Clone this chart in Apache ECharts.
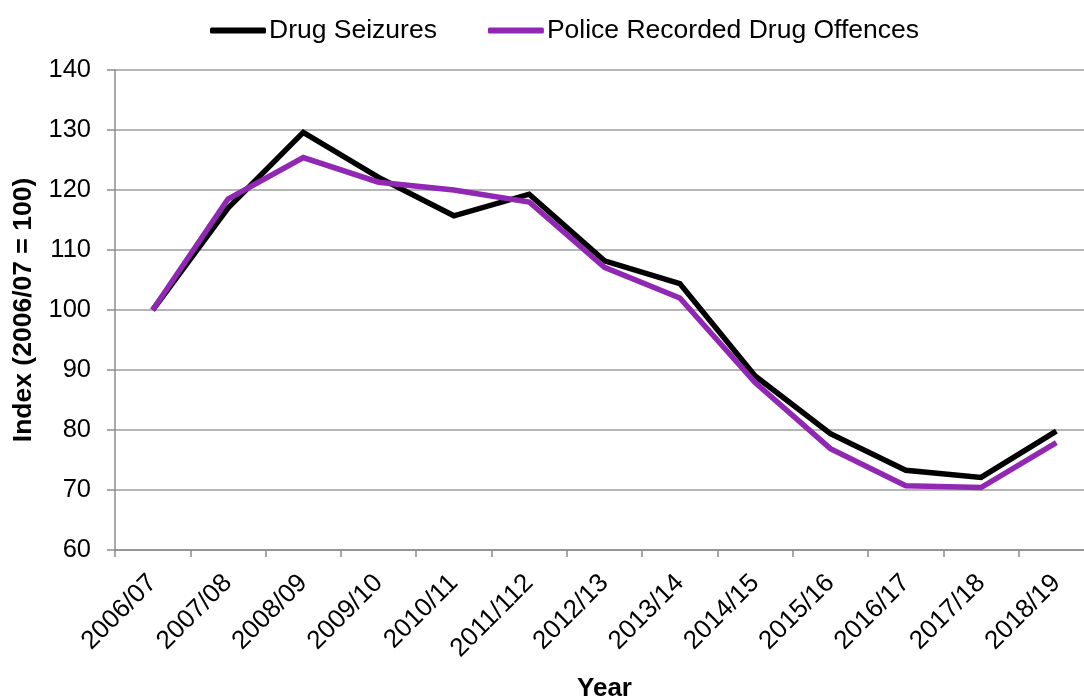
<!DOCTYPE html>
<html>
<head>
<meta charset="utf-8">
<script src="https://cdn.jsdelivr.net/npm/echarts@6/dist/echarts.min.js"></script>
<style>
html,body{margin:0;padding:0;background:#fff;}
#chart{width:1084px;height:700px;}
</style>
</head>
<body>
<div id="chart"></div>
<script>
const categories = ['2006/07','2007/08','2008/09','2009/10','2010/11','2011/112','2012/13','2013/14','2014/15','2015/16','2016/17','2017/18','2018/19'];
const drugSeizures = [100, 117.0, 129.6, 122.1, 115.7, 119.3, 108.2, 104.4, 89.0, 79.4, 73.3, 72.1, 79.8];
const policeRecorded = [100, 118.5, 125.4, 121.3, 120.0, 118.0, 107.1, 102.0, 87.9, 76.9, 70.7, 70.4, 77.9];
const seriesNames = ['Drug Seizures', 'Police Recorded Drug Offences'];
const yTicks = {min: 60, max: 140, interval: 10};
const xTitle = 'Year';
const yTitle = 'Index (2006/07 = 100)';

const FONT = '"Liberation Sans", Arial, sans-serif';
const chart = echarts.init(document.getElementById('chart'), null, {renderer: 'canvas'});
chart.setOption({
  animation: false,
  backgroundColor: '#ffffff',
  textStyle: {fontFamily: FONT},
  legend: {
    top: 12,
    left: 205,
    itemGap: 51,
    itemWidth: 56,
    itemHeight: 6,
    icon: 'roundRect',
    textStyle: {fontSize: 26.5, color: '#000', fontFamily: FONT, padding: [0, 0, 0, -2]},
    data: seriesNames
  },
  grid: {left: 115, top: 70, width: 979, height: 480, outerBoundsMode: 'none', containLabel: false},
  xAxis: {
    type: 'category',
    data: categories,
    boundaryGap: true,
    name: xTitle,
    nameLocation: 'middle',
    nameGap: 126,
    nameTextStyle: {fontSize: 26, fontWeight: 'bold', color: '#000', fontFamily: FONT},
    axisLine: {lineStyle: {color: '#8c8c8c', width: 1.5}},
    axisTick: {show: true, length: 7, lineStyle: {color: '#8c8c8c', width: 1.5}},
    axisLabel: {
      rotate: 45,
      interval: 0,
      fontSize: 26,
      color: '#000',
      fontFamily: FONT,
      margin: 29,
      align: 'right',
      verticalAlign: 'middle'
    },
    splitLine: {show: false}
  },
  yAxis: {
    type: 'value',
    min: yTicks.min,
    max: yTicks.max,
    interval: yTicks.interval,
    name: yTitle,
    nameLocation: 'middle',
    nameGap: 74,
    nameTextStyle: {fontSize: 26.5, fontWeight: 'bold', color: '#000', fontFamily: FONT},
    axisLine: {show: true, lineStyle: {color: '#8c8c8c', width: 1.5}},
    axisTick: {show: true, length: 8, lineStyle: {color: '#8c8c8c', width: 1.5}},
    axisLabel: {fontSize: 25.5, color: '#000', fontFamily: FONT, margin: 24},
    splitLine: {show: true, lineStyle: {color: '#9e9e9e', width: 1.5}}
  },
  series: [
    {
      name: seriesNames[0],
      type: 'line',
      data: drugSeizures,
      symbol: 'none',
      clip: false,
      lineStyle: {color: '#000000', width: 5.5, join: 'miter'},
      itemStyle: {color: '#000000'},
      z: 2
    },
    {
      name: seriesNames[1],
      type: 'line',
      data: policeRecorded,
      symbol: 'none',
      clip: false,
      lineStyle: {color: '#9128b4', width: 5.5, join: 'miter'},
      itemStyle: {color: '#9128b4'},
      z: 3
    }
  ]
});
</script>
</body>
</html>
